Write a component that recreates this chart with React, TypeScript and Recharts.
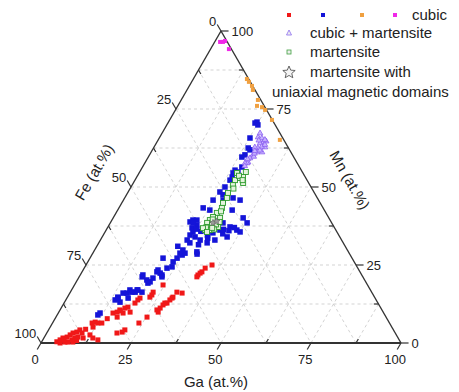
import { ReferenceDot, ReferenceLine, Scatter, ScatterChart, XAxis, YAxis } from "recharts";

// compositions as [Ga, Mn] in at.%; Fe = 100 - Ga - Mn
const cubicRed: [number, number][] = [
  [4.2, 0.4], [4.8, 1.0], [5.3, 1.6], [6.3, 1.9], [6.8, 2.6], [7.3, 3.2], [8.2, 3.5],
  [8.7, 4.2], [9.8, 3.2], [8.1, 1.0], [8.6, 1.6], [9.3, 1.9], [10.9, 1.6], [5.3, 0],
  [6.5, 0.3], [7.3, 0.3], [8.7, 0.3], [12.3, 2.6], [13.6, 1.6], [15.3, 1.0], [11.0, 6.4],
  [11.7, 6.7], [12.6, 6.4], [13.7, 6.4], [11.9, 5.1], [19.5, 3.2], [20.8, 3.5], [21.2, 4.2],
  [15.2, 9.6], [16.2, 9.9], [16.6, 10.6], [17.7, 11.2], [18.4, 11.5], [18.0, 9.6], [17.0, 8.3],
  [19.8, 9.9], [19.7, 12.8], [20.0, 13.8], [24.0, 6.4], [35.0, 25.0], [33.6, 24.0],
  [33.3, 22.8], [32.7, 21.8], [32.7, 21.2], [33.0, 22.4], [29.6, 16.3], [31.2, 16.0],
  [29.3, 14.7], [29.2, 14.4], [28.9, 13.8], [28.6, 12.8], [27.8, 12.2], [27.5, 11.2],
  [26.9, 10.6], [27.6, 9.9], [28.0, 12.8], [23.0, 16.3], [23.1, 15.4], [22.9, 14.7],
  [24.6, 18.6], [25.3, 8.3], [20.3, 14.4], [14.5, 7.8], [16.9, 10.3], [10.2, 4.4],
  [5.9, 0.9], [9.5, 0.8],
];

const cubicBlue: [number, number][] = [
  [11.3, 9.0], [11.6, 9.6], [13.7, 13.8], [14.0, 14.7], [15.4, 13.1], [15.9, 16.0],
  [16.2, 17.0], [18.0, 16.3], [18.4, 17.0], [17.0, 14.4], [20.3, 27.2], [23.7, 26.0],
  [24.2, 27.2], [25.1, 28.2], [25.6, 28.8], [29.1, 28.5], [24.2, 24.4], [23.0, 24.0],
  [22.7, 21.8], [21.9, 22.4], [20.7, 20.8], [20.5, 19.6], [19.3, 20.2], [17.5, 21.2],
  [19.9, 16.3], [20.8, 22.8], [22.0, 38.8], [22.5, 39.4], [24.4, 37.8], [24.4, 35.6],
  [24.1, 34.6], [24.1, 33.0], [24.5, 29.8], [24.2, 28.8], [20.8, 23.4], [23.0, 21.2],
  [17.4, 21.8], [20.1, 19.2], [18.2, 17.0], [17.1, 16.3], [14.8, 16.0], [14.2, 14.4],
  [28.7, 29.2], [30.1, 32.1], [26.4, 52.2], [26.1, 50.0], [25.5, 48.4], [24.9, 45.8],
  [27.7, 45.8], [25.6, 42.6], [23.4, 43.3], [30.1, 46.5], [32.4, 45.8], [31.8, 42.6],
  [36.1, 40.1], [31.3, 38.5], [33.9, 37.2], [36.3, 36.2], [37.5, 35.6], [31.6, 36.2],
  [23.6, 39.4], [23.0, 38.5], [23.5, 36.9], [25.8, 34.0], [25.3, 32.1], [30.1, 35.3],
  [31.8, 33.0], [34.7, 34.0], [38.0, 38.5], [27.7, 33.0], [24.6, 70.8], [24.2, 70.5],
  [25.3, 69.9], [26.3, 62.5], [27.1, 61.9], [26.0, 59.6], [26.2, 55.4], [26.1, 54.5],
  [27.3, 54.8], [26.5, 53.2], [25.2, 65.7], [26.5, 60.3], [27.6, 56.4], [29.0, 34.5],
  [33.0, 35.0], [35.2, 37.0], [28.0, 31.5], [22.5, 31.0], [26.5, 35.8], [32.5, 36.4],
  [29.5, 33.6], [34.2, 36.0], [26.8, 47.5], [25.0, 36.5],
];

const cubicOrange: [number, number][] = [
  [14.9, 84.6], [15.9, 83.7], [17.4, 82.4], [18.3, 81.1], [21.3, 77.9], [22.0, 76.0],
  [23.6, 75.6], [24.9, 74.7], [28.4, 71.5], [33.8, 65.1],
];

const cubicMagenta: [number, number][] = [
  [1.5, 96.5], [2.3, 96.5], [2.7, 96.8], [5.1, 94.2],
];

const cubicMartensite: [number, number][] = [
  [27.3, 66.0], [28.5, 65.7], [29.5, 64.4], [28.8, 64.1], [29.0, 62.5], [29.4, 61.2],
  [28.7, 60.3], [28.4, 59.3], [28.5, 58.0], [30.8, 62.8], [30.8, 61.2], [28.0, 62.8],
  [28.4, 57.7], [27.8, 57.7], [30.2, 64.7], [27.2, 67.3], [29.8, 63.0], [29.2, 59.8],
  [28.0, 65.0], [29.9, 61.8], [28.9, 60.8], [27.9, 59.0], [30.4, 63.6], [28.2, 56.8],
  [29.6, 65.2], [28.6, 61.6],
];

const martensite: [number, number][] = [
  [27.2, 54.5], [28.8, 52.9], [30.5, 51.3], [27.8, 52.2], [28.0, 50.6], [27.9, 48.1],
  [28.4, 46.5], [28.1, 44.9], [28.6, 43.3], [28.0, 41.7], [27.6, 40.4], [27.2, 39.4],
  [26.9, 38.5], [27.8, 37.2], [28.8, 36.2], [28.9, 38.8], [30.6, 37.2], [29.7, 40.1],
  [27.5, 36.2], [28.6, 37.8], [29.5, 53.2], [29.5, 54.8], [29.6, 38.0], [27.3, 37.0],
  [28.2, 53.6], [29.9, 52.2], [28.7, 49.5], [28.9, 42.2], [26.6, 36.8], [28.3, 35.6],
  [29.9, 36.4], [27.9, 39.6], [29.1, 36.9], [30.2, 38.8],
];

const uniaxial: [number, number][] = [[28.5, 38.5], [29.3, 39.0]];

const MAJOR = [0, 25, 50, 75, 100];
const MINOR = [12.5, 37.5, 62.5, 87.5];
const GRID = [12.5, 25, 37.5, 50, 62.5, 75, 87.5];

const S = Math.sqrt(3) / 2;
const cart = (ga: number, mn: number) => ({ x: ga + mn / 2, y: mn * S });
const toPts = (rows: [number, number][]) => rows.map(([ga, mn]) => cart(ga, mn));

const FONT = '"Liberation Sans", Arial, sans-serif';
const AXIS = "#333";
const GRIDC = "#c8c8c8";

const sq = (size: number, fill: string, stroke = "none") => (p: any) => (
  <rect x={p.cx - size / 2} y={p.cy - size / 2} width={size} height={size} fill={fill} stroke={stroke} strokeWidth={0.9} />
);
const tri = (p: any) => (
  <path d={`M${p.cx},${p.cy - 3}L${p.cx + 2.8},${p.cy + 1.8}L${p.cx - 2.8},${p.cy + 1.8}Z`} fill="#c8b4ff" stroke="#8a5ef0" strokeWidth={0.8} />
);
const starPath = (cx: number, cy: number, r: number) => {
  let d = "";
  for (let i = 0; i < 10; i++) {
    const rr = i % 2 ? r * 0.45 : r;
    const a = -Math.PI / 2 + (i * Math.PI) / 5;
    d += `${i ? "L" : "M"}${(cx + rr * Math.cos(a)).toFixed(2)},${(cy + rr * Math.sin(a)).toFixed(2)}`;
  }
  return d + "Z";
};
const star = (p: any) => <path d={starPath(p.cx, p.cy, 3.5)} fill="#9a9a9a" stroke="#666" strokeWidth={0.6} />;

const label = (txt: string, dx: number, dy: number, anchor: string, size = 13, rot = 0) => (p: any) => (
  <text
    x={p.cx + dx}
    y={p.cy + dy}
    textAnchor={anchor}
    dominantBaseline="central"
    fontSize={size}
    fontFamily={FONT}
    fill="#222"
    transform={rot ? `rotate(${rot} ${p.cx + dx} ${p.cy + dy})` : undefined}
  >
    {txt}
  </text>
);

// tick segment from a point on the edge in direction (ux, uy) (data units)
type Seg = { a: { x: number; y: number }; b: { x: number; y: number } };
const seg = (p: { x: number; y: number }, ux: number, uy: number, len: number): Seg => ({
  a: p,
  b: { x: p.x + ux * len, y: p.y + uy * len },
});

const TL = 2.1;
const mnTicks = [...MAJOR.map((v) => seg(cart(100 - v, v), 1, 0, TL)), ...MINOR.map((v) => seg(cart(100 - v, v), -1, 0, 1.3))];
const gaTicks = [...MAJOR.map((v) => seg(cart(v, 0), -0.5, -S, TL)), ...MINOR.map((v) => seg(cart(v, 0), 0.5, S, 1.3))];
const feTicks = [...MAJOR.map((v) => seg(cart(0, 100 - v), -0.5, S, TL)), ...MINOR.map((v) => seg(cart(0, 100 - v), 0.5, -S, 1.3))];

const gridLines: Seg[] = GRID.flatMap((v) => [
  { a: cart(0, v), b: cart(100 - v, v) },
  { a: cart(v, 0), b: cart(v, 100 - v) },
  { a: cart(0, 100 - v), b: cart(100 - v, 0) },
]);

const edges: Seg[] = [
  { a: cart(0, 0), b: cart(100, 0) },
  { a: cart(100, 0), b: cart(0, 100) },
  { a: cart(0, 100), b: cart(0, 0) },
];

function Legend() {
  const row = { position: "absolute" as const, fontSize: 15, fontFamily: FONT, color: "#222", whiteSpace: "nowrap" as const, lineHeight: "16px" };
  const mk = (x: number, y: number, c: string) => (
    <div style={{ position: "absolute", left: x - 2, top: y - 2, width: 4, height: 4, background: c }} />
  );
  return (
    <div style={{ position: "absolute", left: 0, top: 0, width: 459, height: 110, pointerEvents: "none" }}>
      {mk(289, 15, "#f01818")}
      {mk(323, 15, "#1414d8")}
      {mk(362, 15, "#f0a040")}
      {mk(395, 15, "#f028e8")}
      <div style={{ ...row, left: 412, top: 7 }}>cubic</div>
      <svg style={{ position: "absolute", left: 283, top: 27 }} width={12} height={12}>
        <path d="M6,3L8.5,8L3.5,8Z" fill="#eee" stroke="#8c6cf0" strokeWidth={0.8} />
      </svg>
      <div style={{ ...row, left: 310, top: 25 }}>cubic + martensite</div>
      <svg style={{ position: "absolute", left: 283, top: 46 }} width={12} height={12}>
        <rect x={4} y={4} width={4} height={4} fill="#eee" stroke="#40a040" strokeWidth={0.8} />
      </svg>
      <div style={{ ...row, left: 310, top: 44 }}>martensite</div>
      <svg style={{ position: "absolute", left: 281, top: 64 }} width={16} height={16}>
        <path d={starPath(8, 8.5, 6.5)} fill="#f4f4f4" stroke="#555" strokeWidth={0.9} />
      </svg>
      <div style={{ ...row, left: 310, top: 64 }}>martensite with</div>
      <div style={{ ...row, left: 272, top: 84 }}>uniaxial magnetic domains</div>
    </div>
  );
}

export default function App() {
  return (
    <div style={{ position: "absolute", left: 0, top: 0, width: 459, height: 392, background: "#fff" }}>
      <ScatterChart width={459} height={392} margin={{ top: 31, right: 58, bottom: 49, left: 41 }}>
        <XAxis type="number" dataKey="x" domain={[0, 100]} hide />
        <YAxis type="number" dataKey="y" domain={[0, 100 * S]} hide />
        {gridLines.map((l, i) => (
          <ReferenceLine key={`g${i}`} segment={[l.a, l.b]} stroke={GRIDC} strokeDasharray="3 3" strokeWidth={0.8} ifOverflow="visible" />
        ))}
        {edges.map((l, i) => (
          <ReferenceLine key={`e${i}`} segment={[l.a, l.b]} stroke={AXIS} strokeWidth={i === 0 ? 2 : 1.4} ifOverflow="visible" />
        ))}
        {[...mnTicks, ...gaTicks, ...feTicks].map((l, i) => (
          <ReferenceLine key={`t${i}`} segment={[l.a, l.b]} stroke={AXIS} strokeWidth={1.2} ifOverflow="visible" />
        ))}
        {MAJOR.map((v, i) => {
          const e = mnTicks[i].b;
          return <ReferenceDot key={`mn${v}`} x={e.x} y={e.y} r={0} ifOverflow="visible" shape={label(String(v), 3, 0, "start")} />;
        })}
        {MAJOR.map((v, i) => {
          const e = gaTicks[i].b;
          return <ReferenceDot key={`ga${v}`} x={e.x} y={e.y} r={0} ifOverflow="visible" shape={label(String(v), -2, 10, "middle")} />;
        })}
        {MAJOR.map((v, i) => {
          const e = feTicks[i].b;
          return <ReferenceDot key={`fe${v}`} x={e.x} y={e.y} r={0} ifOverflow="visible" shape={label(String(v), -1, -3, "end")} />;
        })}
        <ReferenceDot x={50} y={0} r={0} ifOverflow="visible" shape={label("Ga (at.%)", -5, 38, "middle", 15)} />
        <ReferenceDot x={25} y={50 * S} r={0} ifOverflow="visible" shape={label("Fe (at.%)", -37, -15, "middle", 15, -60)} />
        <ReferenceDot x={75} y={50 * S} r={0} ifOverflow="visible" shape={label("Mn (at.%)", 39, -7, "middle", 15, 60)} />
        <Scatter data={toPts(cubicRed)} fill="#f01818" shape={sq(5, "#f01818")} isAnimationActive={false} />
        <Scatter data={toPts(cubicBlue)} fill="#1414d8" shape={sq(5.5, "#1414d8")} isAnimationActive={false} />
        <Scatter data={toPts(cubicOrange)} fill="#f0a040" shape={sq(4, "#f0a040")} isAnimationActive={false} />
        <Scatter data={toPts(cubicMagenta)} fill="#f028e8" shape={sq(4, "#f028e8")} isAnimationActive={false} />
        <Scatter data={toPts(cubicMartensite)} fill="#8a5ef0" shape={tri} isAnimationActive={false} />
        <Scatter data={toPts(martensite)} fill="#30a030" shape={sq(5, "#e4f4dc", "#2c9a2c")} isAnimationActive={false} />
        <Scatter data={toPts(uniaxial)} fill="#999" shape={star} isAnimationActive={false} />
      </ScatterChart>
      <Legend />
    </div>
  );
}
